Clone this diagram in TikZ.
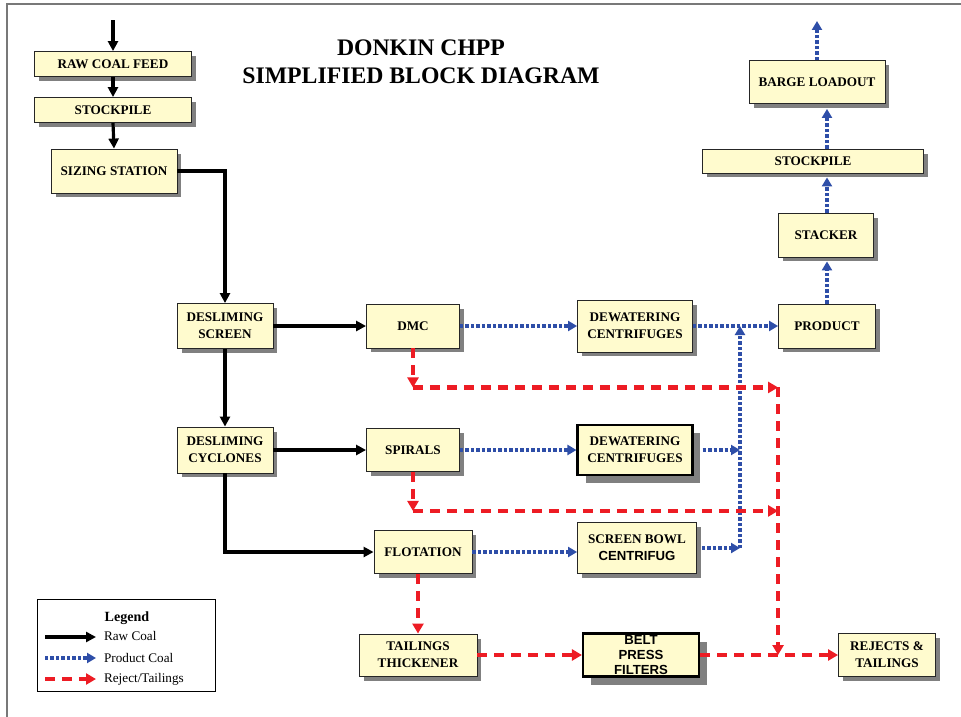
\documentclass[tikz,border=0pt]{standalone}
\usepackage{fontspec}
\setmainfont{Liberation Serif}
\setsansfont{Liberation Sans}
\usetikzlibrary{arrows.meta,shadows}
\definecolor{boxfill}{RGB}{255,251,206}
\definecolor{prodblue}{RGB}{46,78,168}
\definecolor{rejred}{RGB}{237,28,36}
\definecolor{framegray}{RGB}{120,120,120}
\definecolor{shadowgray}{RGB}{128,128,128}

\begin{document}
\begin{tikzpicture}[
x=0.02cm,
y=-0.02cm,
every node/.style={inner sep=1pt, align=center}
]

\tikzstyle{bx} = [draw=black!85, line width=0.5pt, fill=boxfill, font=\fontsize{7.5}{9.6}\selectfont\bfseries, drop shadow={shadow xshift=0.09cm, shadow yshift=-0.09cm, fill=shadowgray, opacity=1}]
\tikzstyle{bxb} = [draw=black, line width=1.2pt, fill=boxfill, font=\fontsize{7.5}{9.6}\selectfont\bfseries, drop shadow={shadow xshift=0.16cm, shadow yshift=-0.16cm, fill=shadowgray, opacity=1}]
\tikzstyle{rawc} = [line width=1.8pt, -{Triangle[length=0.2cm,width=0.2cm]}]
\tikzstyle{prodc} = [prodblue, line width=2.2pt, dash pattern=on 0.07cm off 0.04cm, -{Triangle[length=0.18cm,width=0.2cm]}]
\tikzstyle{rejc} = [rejred, line width=2.4pt, dash pattern=on 0.2cm off 0.14cm, -{Triangle[length=0.2cm,width=0.22cm]}]

\useasboundingbox (0,0) rectangle (961,717);
\draw[framegray, line width=0.8pt] (961,4) -- (7,4) -- (7,717);

\node[font=\fontsize{13.5}{16}\selectfont\bfseries] (title) at (421,62) {DONKIN CHPP\\SIMPLIFIED BLOCK DIAGRAM};

\node[bx, minimum width=3.14cm, minimum height=0.5cm] (raw) at (113,64) {RAW COAL FEED};
\node[bx, minimum width=3.14cm, minimum height=0.5cm] (stocka) at (113,110) {STOCKPILE};
\node[bx, minimum width=2.52cm, minimum height=0.88cm] (sizing) at (114,171) {SIZING STATION};
\node[bx, minimum width=1.92cm, minimum height=0.9cm] (screen) at (225,326) {DESLIMING\\SCREEN};
\node[bx, minimum width=1.92cm, minimum height=0.92cm] (cyclones) at (225,450) {DESLIMING\\CYCLONES};
\node[bx, minimum width=1.86cm, minimum height=0.88cm] (dmc) at (413,326) {DMC};
\node[bx, minimum width=1.86cm, minimum height=0.86cm] (spirals) at (413,450) {SPIRALS};
\node[bx, minimum width=1.96cm, minimum height=0.86cm] (flot) at (423,552) {FLOTATION};
\node[bx, minimum width=2.36cm, minimum height=0.84cm] (thick) at (418,655) {TAILINGS\\THICKENER};
\node[bx, minimum width=2.3cm, minimum height=1.04cm] (dewa) at (635,326) {DEWATERING\\CENTRIFUGES};
\node[bxb, minimum width=2.3cm, minimum height=1.0cm] (dewb) at (635,450) {DEWATERING\\CENTRIFUGES};
\node[bx, minimum width=2.38cm, minimum height=1.02cm] (bowl) at (637,548) {SCREEN BOWL\\{\sffamily CENTRIFUG}};
\node[bxb, minimum width=2.32cm, minimum height=0.86cm, inner sep=0pt, font=\fontsize{7.5}{8.6}\selectfont\sffamily\bfseries] (belt) at (641,655) {BELT\\PRESS\\FILTERS};
\node[bx, minimum width=1.94cm, minimum height=0.88cm] (product) at (827,326) {PRODUCT};
\node[bx, minimum width=1.9cm, minimum height=0.88cm] (stacker) at (826,235) {STACKER};
\node[bx, minimum width=4.42cm, minimum height=0.48cm] (stockb) at (813,161) {STOCKPILE};
\node[bx, minimum width=2.72cm, minimum height=0.86cm] (barge) at (817,82) {BARGE LOADOUT};
\node[bx, minimum width=1.94cm, minimum height=0.86cm] (rejects) at (887,655) {REJECTS \&\\TAILINGS};

\coordinate (feed) at (113,20);
\draw[rawc] (feed) -- (raw.north);
\draw[rawc] (raw.south) -- (stocka.north);
\draw[rawc] (stocka.south) -- (sizing.north);
\draw[rawc] (sizing.east) -| (screen.north);
\draw[rawc] (screen.east) -- (dmc.west);
\draw[rawc] (screen.south) -- (cyclones.north);
\draw[rawc] (cyclones.east) -- (spirals.west);
\draw[rawc] (cyclones.south) |- (flot.west);

\coordinate (bj) at (740,548);
\coordinate (bt) at (740,326);
\draw[prodc] (dmc.east) -- (dewa.west);
\draw[prodc] (dewa.east) -- (product.west);
\draw[prodc] (bj) -- (bt);
\draw[prodc] (spirals.east) -- (dewb.west);
\draw[prodc, shorten <=0.18cm] (dewb.east) -- (dewb.east -| bj);
\draw[prodc] (flot.east) -- (flot.east -| bowl.west);
\draw[prodc, shorten <=0.1cm] (bowl.east) -- (bj);
\draw[prodc, shorten >=0.08cm] (product.north) -- (product.north |- stacker.south);
\draw[prodc, shorten >=0.08cm] (product.north |- stacker.north) -- (product.north |- stockb.south);
\draw[prodc, shorten >=0.1cm] (product.north |- stockb.north) -- (product.north |- barge.south);
\coordinate (out) at (817,21);
\draw[prodc] (barge.north) -- (out);

\path (dmc.south) ++(0,39) coordinate (ra);
\coordinate (rb) at (ra -| product.west);
\path (spirals.south) ++(0,39) coordinate (rc);
\coordinate (rd) at (rc -| rb);
\coordinate (re) at (rb |- rejects.west);
\draw[rejc] (dmc.south) -- (ra);
\draw[rejc] (ra) -- (rb);
\draw[rejc] (spirals.south) -- (rc);
\draw[rejc] (rc) -- (rd);
\draw[rejc] (rb) -- (re);
\draw[rejc] (flot.south -| thick.north) -- (thick.north);
\draw[rejc] (thick.east) -- (belt.west);
\draw[rejc] (belt.east) -- (rejects.west);

\node[draw=black, line width=0.5pt, minimum width=3.56cm, minimum height=1.84cm] (legend) at (126,645) {};
\node[font=\fontsize{8}{9}\selectfont\bfseries] (legt) at (127,618) {Legend};
\coordinate (la) at (45,637);
\coordinate (lb) at (96,637);
\coordinate (lc) at (45,658);
\coordinate (ld) at (96,658);
\coordinate (le) at (45,679);
\coordinate (lf) at (96,679);
\draw[rawc] (la) -- (lb);
\draw[prodc] (lc) -- (ld);
\draw[rejc] (le) -- (lf);
\node[anchor=west, font=\fontsize{7.5}{9}\selectfont] (lraw) at (102,636) {Raw Coal};
\node[anchor=west, font=\fontsize{7.5}{9}\selectfont] (lprod) at (102,658) {Product Coal};
\node[anchor=west, font=\fontsize{7.5}{9}\selectfont] (lrej) at (102,679) {Reject/Tailings};
\end{tikzpicture}
\end{document}
